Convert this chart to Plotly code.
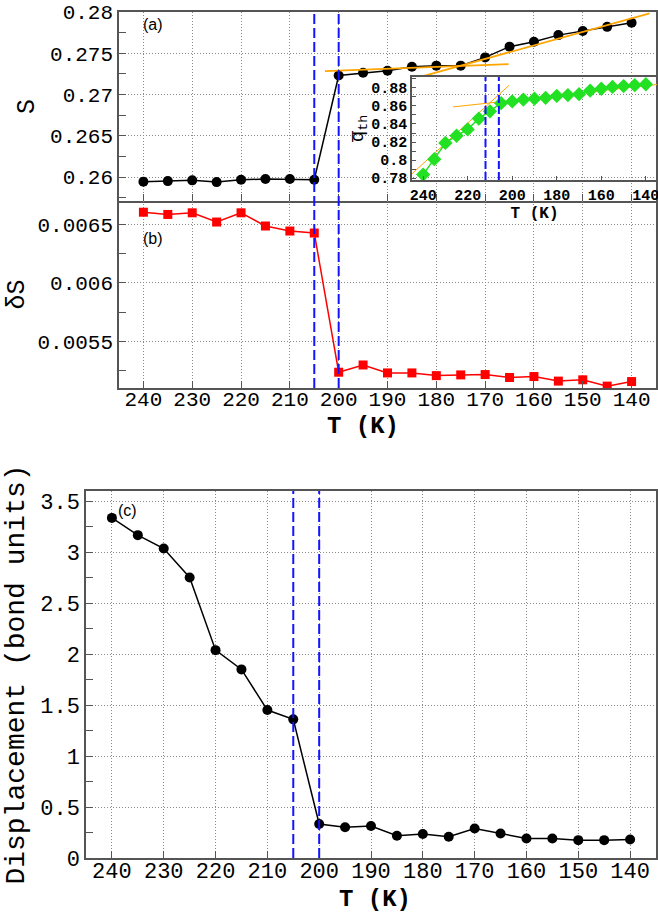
import plotly.graph_objects as go

# ---------------- data ----------------
T = [240, 235, 230, 225, 220, 215, 210, 205, 200, 195, 190,
     185, 180, 175, 170, 165, 160, 155, 150, 145, 140]

S_vals = [0.25943, 0.25951, 0.2596, 0.25939, 0.25967, 0.25976, 0.25976, 0.25967,
          0.2723, 0.27263, 0.27288, 0.27337, 0.2735, 0.2735, 0.2745, 0.2758,
          0.2764, 0.2772, 0.2777, 0.2782, 0.2787]

dS_vals = [0.006604, 0.006585, 0.006599, 0.00652, 0.006599, 0.006486, 0.006443, 0.006426,
           0.005235, 0.005297, 0.005229, 0.005229, 0.005206, 0.005212, 0.005215,
           0.00519, 0.005198, 0.005159, 0.00517, 0.005116, 0.005155]

disp_vals = [3.336, 3.167, 3.036, 2.752, 2.039, 1.85, 1.451, 1.36, 0.333, 0.301,
             0.314, 0.218, 0.235, 0.209, 0.29, 0.24, 0.191, 0.191, 0.175, 0.175, 0.182]

qth_vals = [0.784, 0.801, 0.819, 0.827, 0.834, 0.846, 0.854, 0.863, 0.865, 0.867,
            0.868, 0.869, 0.871, 0.872, 0.873, 0.877, 0.879, 0.881, 0.882, 0.883, 0.884]

T_marks = [205, 200]          # dashed lines, main panels
T_marks_inset = [212, 206]    # dashed lines, inset

fitA1_T, fitA1_S = [202.8, 165.2], [0.27283, 0.27369]
fitA2_T, fitA2_S = [182.9, 136.3], [0.27221, 0.27983]
fitQ1_T, fitQ1_q = [245.1, 201.5], [0.7847, 0.8826]
fitQ2_T, fitQ2_q = [226.5, 134.8], [0.8589, 0.8837]

T_ticks = [240, 230, 220, 210, 200, 190, 180, 170, 160, 150, 140]
T_ticks_inset = [240, 220, 200, 180, 160, 140]
S_ticks = [0.26, 0.265, 0.27, 0.275, 0.28]
S_ticktext = ["0.26", "0.265", "0.27", "0.275", "0.28"]
dS_ticks = [0.0055, 0.006, 0.0065]
dS_ticktext = ["0.0055", "0.006", "0.0065"]
disp_ticks = [0, 0.5, 1, 1.5, 2, 2.5, 3, 3.5]
disp_ticktext = ["0", "0.5", "1", "1.5", "2", "2.5", "3", "3.5"]
q_ticks = [0.78, 0.8, 0.82, 0.84, 0.86, 0.88]
q_ticktext = ["0.78", "0.8", "0.82", "0.84", "0.86", "0.88"]

# ---------------- geometry ----------------
W, H = 658, 912
def fx(px):
    return px / W
def fy(py):
    return 1 - py / H

MONO = "Liberation Mono"
FRAME = "#555555"
GRID = "#8a8a8a"
DOT = "1px,2px"
BLUE = "#1414ff"

fig = go.Figure()

fig.add_trace(go.Scatter(x=T, y=S_vals, mode="lines+markers", xaxis="x", yaxis="y",
                         line=dict(color="black", width=1.5),
                         marker=dict(symbol="circle", size=10, color="black"), showlegend=False))
fig.add_trace(go.Scatter(x=fitA1_T, y=fitA1_S, mode="lines", xaxis="x", yaxis="y",
                         line=dict(color="#FFA500", width=1.8), showlegend=False))
fig.add_trace(go.Scatter(x=fitA2_T, y=fitA2_S, mode="lines", xaxis="x", yaxis="y",
                         line=dict(color="#FFA500", width=1.8), showlegend=False))
fig.add_trace(go.Scatter(x=T, y=dS_vals, mode="lines+markers", xaxis="x2", yaxis="y2",
                         line=dict(color="red", width=1.5),
                         marker=dict(symbol="square", size=9, color="red"), showlegend=False))
fig.add_trace(go.Scatter(x=T, y=disp_vals, mode="lines+markers", xaxis="x3", yaxis="y3",
                         line=dict(color="black", width=1.5),
                         marker=dict(symbol="circle", size=10, color="black"), showlegend=False))
fig.add_trace(go.Scatter(x=fitQ1_T, y=fitQ1_q, mode="lines", xaxis="x4", yaxis="y4",
                         line=dict(color="#FFA500", width=1), showlegend=False))
fig.add_trace(go.Scatter(x=fitQ2_T, y=fitQ2_q, mode="lines", xaxis="x4", yaxis="y4",
                         line=dict(color="#FFA500", width=1), showlegend=False))
fig.add_trace(go.Scatter(x=T, y=qth_vals, mode="lines+markers", xaxis="x4", yaxis="y4",
                         line=dict(color="#22e022", width=1.5),
                         marker=dict(symbol="diamond", size=11, color="#22e022"), showlegend=False))

xA = [fx(119), fx(656)]
xC = [fx(86), fx(656)]
yA = [fy(201), fy(12)]
yB = [fy(388), fy(201)]
yC = [fy(858), fy(491)]
xI = [fx(412), fx(657)]
yI = [fy(180), fy(77)]

def xaxis_common(domain, anchor, showlabels, tickvals, size=21, standoff=0, mirror=True):
    return dict(domain=domain, anchor=anchor, range=[245, 135], automargin=False,
                tickmode="array", tickvals=tickvals, showticklabels=showlabels,
                ticklabelstandoff=standoff, ticklabeloverflow="allow",
                ticks="inside", ticklen=7, tickcolor=FRAME,
                showgrid=True, gridcolor=GRID, griddash=DOT, gridwidth=1,
                showline=True, linecolor=FRAME, linewidth=1.5, mirror=mirror,
                zeroline=False, tickfont=dict(family=MONO, size=size, color="black"))

def yaxis_common(domain, anchor, rng, tickvals, ticktext, minor_dtick, size=21):
    return dict(domain=domain, anchor=anchor, range=rng, automargin=False,
                tickmode="array", tickvals=tickvals, ticktext=ticktext,
                ticklabeloverflow="allow",
                ticks="inside", ticklen=7, tickcolor=FRAME,
                minor=dict(dtick=minor_dtick, tick0=tickvals[0], ticks="inside",
                           ticklen=7, tickcolor=FRAME, showgrid=False),
                showgrid=True, gridcolor=GRID, griddash=DOT, gridwidth=1,
                showline=True, linecolor=FRAME, linewidth=1.5, mirror=True,
                zeroline=False, tickfont=dict(family=MONO, size=size, color="black"))

xa = xaxis_common(xA, "y", False, T_ticks)
xb = xaxis_common(xA, "y2", True, T_ticks, standoff=-9, mirror=False)
xc = xaxis_common(xC, "y3", True, T_ticks, size=22, standoff=-8)

ya = yaxis_common(yA, "x", [0.2571, 0.28], S_ticks, S_ticktext, 0.0025)
ya["title"] = dict(text="S", font=dict(family=MONO, size=25, color="black"), standoff=8)
yb = yaxis_common(yB, "x2", [0.0051, 0.0067], dS_ticks, dS_ticktext, 0.00025)
yb["title"] = dict(text="δS", font=dict(family=MONO, size=25, color="black"), standoff=6)
yc = yaxis_common(yC, "x3", [0, 3.6], disp_ticks, disp_ticktext, 0.25, size=22)
yc["title"] = dict(text="Displacement (bond units)", font=dict(family=MONO, size=28, color="black"), standoff=7)

xi = dict(domain=xI, anchor="y4", range=[245, 135], tickmode="array", tickvals=T_ticks_inset,
          automargin=False, ticklabeloverflow="allow",
          ticks="inside", ticklen=4, tickcolor=FRAME, showgrid=False,
          showline=True, linecolor=FRAME, linewidth=1.5, mirror=True, zeroline=False,
          tickfont=dict(family=MONO, size=15, color="black", weight="bold"),
          title=dict(text="<b>T (K)</b>", font=dict(family=MONO, size=16, color="black"), standoff=2))
yi = dict(domain=yI, anchor="x4", range=[0.778, 0.892], tickmode="array",
          tickvals=q_ticks, ticktext=q_ticktext, automargin=False, ticklabeloverflow="allow",
          ticks="inside", ticklen=4, tickcolor=FRAME, showgrid=False,
          minor=dict(dtick=0.01, tick0=0.78, ticks="inside", ticklen=4, tickcolor=FRAME, showgrid=False),
          showline=True, linecolor=FRAME, linewidth=1.5, mirror=True, zeroline=False,
          tickfont=dict(family=MONO, size=15, color="black", weight="bold"),
          title=dict(text="q\u0305<sub>th</sub>", font=dict(family=MONO, size=19, color="black"), standoff=2))

shapes = []
for t in T_marks:
    shapes.append(dict(type="line", xref="x", yref="paper", x0=t, x1=t, y0=yB[0], y1=yA[1],
                       line=dict(color=BLUE, width=2, dash="10px,4px")))
    shapes.append(dict(type="line", xref="x3", yref="paper", x0=t, x1=t, y0=yC[0], y1=yC[1],
                       line=dict(color=BLUE, width=2, dash="10px,4px")))
for t in T_marks_inset:
    shapes.append(dict(type="line", xref="x4", yref="paper", x0=t, x1=t, y0=yI[0], y1=yI[1],
                       line=dict(color=BLUE, width=2, dash="8px,3px")))

annotations = [
    dict(text="(a)", x=240, y=0.2785, xref="x", yref="y", showarrow=False, xanchor="left",
         xshift=-2, font=dict(family="Liberation Sans", size=16, color="black")),
    dict(text="(b)", x=240, y=0.00638, xref="x2", yref="y2", showarrow=False, xanchor="left",
         xshift=-2, font=dict(family="Liberation Sans", size=16, color="black")),
    dict(text="(c)", x=240, y=3.4, xref="x3", yref="y3", showarrow=False, xanchor="left",
         xshift=4, yshift=1, font=dict(family="Liberation Sans", size=16, color="black")),
    # x-axis titles of panels (b) and (c)
    dict(text="<b>T (K)</b>", x=fx(363), y=fy(412), xref="paper", yref="paper",
         showarrow=False, xanchor="center", yanchor="top", borderpad=0,
         font=dict(family=MONO, size=24, color="black")),
    dict(text="<b>T (K)</b>", x=fx(375), y=fy(885), xref="paper", yref="paper",
         showarrow=False, xanchor="center", yanchor="top", borderpad=0,
         font=dict(family=MONO, size=24, color="black")),
]

fig.update_layout(
    width=W, height=H, margin=dict(l=0, r=0, t=0, b=0, autoexpand=False),
    paper_bgcolor="white", plot_bgcolor="rgba(0,0,0,0)",
    xaxis=xa, yaxis=ya, xaxis2=xb, yaxis2=yb, xaxis3=xc, yaxis3=yc,
    xaxis4=xi, yaxis4=yi,
    shapes=shapes, annotations=annotations, showlegend=False,
)

fig.write_html("out.html")
